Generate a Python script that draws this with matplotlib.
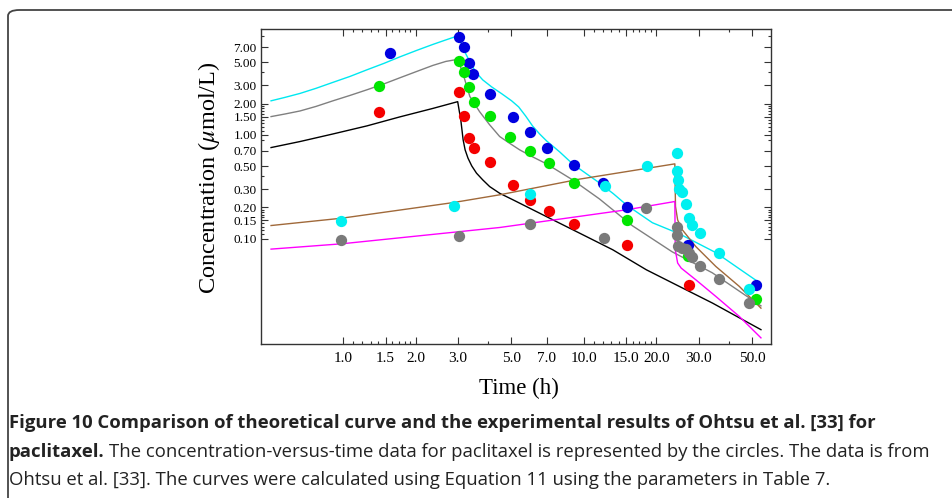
import matplotlib
matplotlib.use('Agg')
import matplotlib.pyplot as plt
from matplotlib.patches import FancyBboxPatch
from matplotlib.ticker import NullFormatter

plt.rcParams['font.family'] = ['Liberation Serif', 'DejaVu Serif']
plt.rcParams['mathtext.fontset'] = 'stix'

# experimental points (time h, concentration umol/L)
blue_t = [1.56, 3.03, 3.18, 3.33, 3.46, 4.08, 5.10, 6.0, 7.0, 9.08, 12.0, 15.1, 27.2, 51.9]
blue_c = [6.14, 8.75, 7.0, 4.92, 3.86, 2.48, 1.49, 1.07, 0.75, 0.515, 0.345, 0.203, 0.0875, 0.0353]

green_t = [1.41, 3.04, 3.18, 3.32, 3.48, 4.07, 4.95, 5.96, 7.16, 9.1, 15.1, 27.2, 51.9]
green_c = [2.98, 5.15, 4.03, 2.9, 2.09, 1.52, 0.957, 0.706, 0.538, 0.343, 0.150, 0.0676, 0.0259]

red_t = [1.41, 3.04, 3.18, 3.32, 3.48, 4.07, 5.10, 5.97, 7.16, 9.1, 15.1, 27.3]
red_c = [1.67, 2.59, 1.53, 0.936, 0.75, 0.55, 0.328, 0.234, 0.183, 0.138, 0.0862, 0.0359]

cyan_t = [0.978, 2.89, 5.98, 12.2, 18.3, 24.4, 24.5, 24.6, 24.9, 25.5, 26.5, 27.4, 28.3, 30.4, 36.5, 48.5]
cyan_c = [0.146, 0.205, 0.269, 0.323, 0.50, 0.668, 0.444, 0.364, 0.301, 0.282, 0.216, 0.158, 0.134, 0.112, 0.0731, 0.0328]

gray_t = [0.978, 3.03, 5.98, 12.1, 18.1, 24.3, 24.3, 24.6, 25.5, 26.5, 27.3, 28.2, 30.4, 36.5, 48.5]
gray_c = [0.097, 0.105, 0.139, 0.102, 0.198, 0.129, 0.108, 0.0848, 0.0816, 0.0784, 0.073, 0.0667, 0.0542, 0.0411, 0.0237]

# theoretical curves
cyan_line_t = [0.501, 0.573, 0.661, 0.770, 0.906, 1.066, 1.254, 1.475, 1.718, 2.02, 2.36, 2.67, 2.99,
               3.08, 3.20, 3.36, 3.55, 3.80, 4.14, 4.56, 5.01, 5.36, 5.73, 6.12, 6.55, 7.00, 7.93, 8.98,
               10.26, 11.61, 13.28, 15.04, 17.02, 19.28, 24.95, 35.5, 44.3, 54.5]
cyan_line_c = [2.13, 2.30, 2.51, 2.81, 3.21, 3.66, 4.24, 4.89, 5.65, 6.53, 7.46, 8.24, 9.01,
               7.88, 6.32, 5.06, 4.05, 3.39, 2.90, 2.49, 2.13, 1.86, 1.52, 1.22, 1.02, 0.875, 0.686, 0.525,
               0.421, 0.344, 0.270, 0.211, 0.173, 0.142, 0.111, 0.0728, 0.0510, 0.0366]

gray_line_t = [0.501, 0.573, 0.661, 0.770, 0.906, 1.066, 1.254, 1.475, 1.718, 2.02, 2.36, 2.67, 2.99,
               3.14, 3.36, 3.69, 4.06, 4.47, 4.92, 5.41, 6.12, 7.00, 8.98, 11.61, 15.93, 23.3, 34.2, 54.5]
gray_line_c = [1.50, 1.59, 1.70, 1.88, 2.13, 2.40, 2.72, 3.10, 3.55, 4.09, 4.68, 5.11, 5.35,
               3.94, 2.34, 1.67, 1.25, 0.963, 0.828, 0.717, 0.614, 0.525, 0.368, 0.241, 0.1326, 0.0744,
               0.0467, 0.0224]

black_line_t = [0.501, 0.661, 0.906, 1.254, 1.718, 2.36, 2.99, 3.03, 3.08, 3.15, 3.21, 3.30, 3.42, 3.58,
                3.80, 4.06, 4.47, 5.08, 6.98, 9.60, 13.2, 18.2, 24.95, 34.3, 54.5]
black_line_c = [0.754, 0.862, 1.02, 1.22, 1.49, 1.80, 2.09, 1.74, 1.395, 0.895, 0.717, 0.596, 0.502, 0.427,
                0.368, 0.317, 0.273, 0.236, 0.163, 0.1127, 0.0778, 0.0499, 0.0345, 0.0238, 0.0132]

brown_line_t = [0.501, 0.985, 2.86, 4.47, 9.60, 23.9, 24.05, 24.55, 25.7, 29.2, 35.4, 44.3, 54.5]
brown_line_c = [0.1334, 0.157, 0.222, 0.264, 0.374, 0.525, 0.204, 0.151, 0.121, 0.0837, 0.0537, 0.0345, 0.0213]

magenta_line_t = [0.501, 0.985, 4.47, 15.0, 23.9, 24.0, 24.55, 25.4, 29.2, 35.4, 44.3, 54.5]
magenta_line_c = [0.079, 0.0889, 0.1277, 0.189, 0.2275, 0.0778, 0.058, 0.0518, 0.040, 0.0276, 0.0177, 0.011]

x_major = [1.0, 1.5, 2.0, 3.0, 5.0, 7.0, 10.0, 15.0, 20.0, 30.0, 50.0]
x_minor = [1.1, 1.2, 1.3, 1.4, 1.6, 1.7, 1.8, 1.9, 4.0, 11, 12, 13, 14, 16, 17, 18, 19, 40]
y_major = [0.10, 0.15, 0.20, 0.30, 0.50, 0.70, 1.00, 1.50, 2.00, 3.00, 5.00, 7.00]
y_minor = [0.11, 0.12, 0.13, 0.14, 0.16, 0.17, 0.18, 0.19, 0.4, 0.9, 1.1, 1.2, 1.3, 1.4, 1.6, 1.7, 1.8, 1.9,
           4.0, 9.0]

fig = plt.figure(figsize=(9.53, 4.98), dpi=100)

# rounded frame around the figure
frame = FancyBboxPatch((8 / 953, -0.1), 1.2, 0.1 + 488 / 498, boxstyle='round,pad=0,rounding_size=0.012',
                       transform=fig.transFigure, fill=False, edgecolor='#444444', linewidth=1.3)
fig.patches.append(frame)

ax = fig.add_axes([261 / 953, (498 - 344) / 498, 510 / 953, 315 / 498])
ax.set_xscale('log')
ax.set_yscale('log')

ax.plot(cyan_line_t, cyan_line_c, color='#00e8f0', lw=1.0, zorder=2)
ax.plot(gray_line_t, gray_line_c, color='#808080', lw=1.0, zorder=2)
ax.plot(black_line_t, black_line_c, color='black', lw=1.0, zorder=2)
ax.plot(brown_line_t, brown_line_c, color='#a0693a', lw=1.0, zorder=2)
ax.plot(magenta_line_t, magenta_line_c, color='#ff00ff', lw=1.0, zorder=2)

ms = 66
ax.scatter(blue_t, blue_c, s=ms, color='#0000e0', zorder=3, linewidths=0)
ax.scatter(green_t, green_c, s=ms, color='#00e600', zorder=3, linewidths=0)
ax.scatter(red_t, red_c, s=ms, color='#f50000', zorder=3, linewidths=0)
ax.scatter(cyan_t, cyan_c, s=ms, color='#00f0f0', zorder=4, linewidths=0)
ax.scatter(gray_t, gray_c, s=ms, color='#7a7a7a', zorder=4, linewidths=0)

ax.set_xlim(0.455, 60)
ax.set_ylim(0.0096, 10.5)

ax.set_xticks(x_major)
ax.set_xticks(x_minor, minor=True)
ax.set_xticklabels(['%.1f' % v for v in x_major])
ax.set_yticks(y_major)
ax.set_yticks(y_minor, minor=True)
ax.set_yticklabels(['%.2f' % v for v in y_major])
ax.xaxis.set_minor_formatter(NullFormatter())
ax.yaxis.set_minor_formatter(NullFormatter())
ax.tick_params(which='both', direction='in', top=True, right=True, width=0.8, color='#333333')
ax.tick_params(which='major', length=5)
ax.tick_params(which='minor', length=2.5)
ax.tick_params(axis='x', labelsize=11, pad=6)
ax.tick_params(axis='y', labelsize=9.5, pad=3)
for s in ax.spines.values():
    s.set_color('#333333')
    s.set_linewidth(1.0)

fig.text(209 / 953, 1 - 178 / 498, r'Concentration ($\mu$mol/L)', rotation=90, ha='center', va='center',
         fontsize=17.5)
fig.text(519 / 953, 1 - 388 / 498, 'Time (h)', ha='center', va='center', fontsize=16.5)

# caption
cap_font = 'Open Sans'
cap_size = 13.3
fig.text(9 / 953, 1 - 423 / 498, 'Figure 10 Comparison of theoretical curve and the experimental results of Ohtsu et al. [33] for',
         family=cap_font, fontsize=cap_size, fontweight='bold', va='center', color='#222222')
t_bold = fig.text(9 / 953, 1 - 452 / 498, 'paclitaxel.', family=cap_font, fontsize=cap_size, fontweight='bold',
                  va='center', color='#222222')
fig.canvas.draw()
bb = t_bold.get_window_extent()
fig.text((bb.x1 + 4) / 953, 1 - 452 / 498,
         'The concentration-versus-time data for paclitaxel is represented by the circles. The data is from',
         family=cap_font, fontsize=cap_size, va='center', color='#222222')
fig.text(9 / 953, 1 - 480 / 498,
         'Ohtsu et al. [33]. The curves were calculated using Equation 11 using the parameters in Table 7.',
         family=cap_font, fontsize=cap_size, va='center', color='#222222')

fig.savefig('out.png', dpi=100)
